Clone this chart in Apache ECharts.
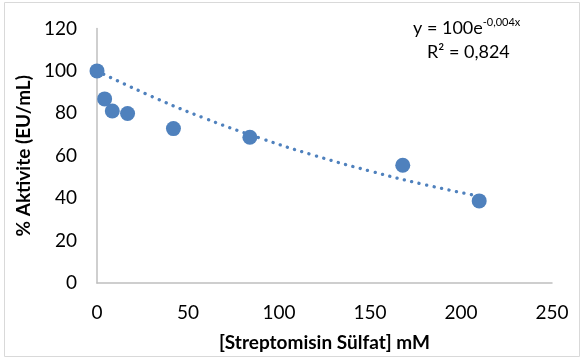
<!DOCTYPE html>
<html>
<head>
<meta charset="utf-8">
<script src="https://cdn.jsdelivr.net/npm/echarts@6/dist/echarts.min.js"></script>
<style>
  html, body { margin: 0; padding: 0; background: #fff; }
  #main { width: 584px; height: 360px; }
</style>
</head>
<body>
<div id="main"></div>
<script>
// measured points
const concentrations = [0, 4.2, 8.4, 16.8, 42, 84, 168, 210]
const activity = [100, 86.8, 81.1, 79.9, 72.8, 68.7, 55.5, 38.7]

// trendline
const trendX = [0, 30, 60, 90, 120, 150, 180, 210]
const trendY = [100, 88, 77.4, 68.2, 60, 52.8, 46.4, 40.9]

const xTicks = [0, 50, 100, 150, 200, 250]
const yTicks = [0, 20, 40, 60, 80, 100, 120]

const blue = '#4F81BD'
const axisGray = '#BFBFBF'
const font = 'Lato, "Open Sans", sans-serif'

const myChart = echarts.init(document.getElementById('main'))

myChart.setOption({
  animation: false,
  textStyle: { fontFamily: font },
  grid: { left: 97, right: 32, top: 28.5, bottom: 77 },
  graphic: [
    {
      type: 'rect',
      shape: { x: 4.5, y: 2.5, width: 575, height: 354 },
      style: { fill: 'none', stroke: '#D9D9D9', lineWidth: 1 },
      silent: true
    },
    {
      type: 'text',
      left: 413,
      top: 17,
      style: {
        text: 'y = 100e{sup|-0,004x}',
        font: '18px ' + font,
        fill: '#000',
        rich: {
          sup: { fontSize: 11, fontFamily: font, verticalAlign: 'top', padding: [0, 0, 12, 0], fill: '#000' }
        }
      }
    },
    {
      type: 'text',
      left: 427,
      top: 43,
      style: { text: 'R² = 0,824', font: '18px ' + font, fill: '#000' }
    }
  ],
  xAxis: {
    type: 'value',
    min: xTicks[0],
    max: xTicks[xTicks.length - 1],
    interval: 50,
    name: '[Streptomisin Sülfat] mM',
    nameLocation: 'middle',
    nameGap: 50,
    nameTextStyle: { fontSize: 19, fontWeight: 'bold', color: '#000', fontFamily: font },
    axisLine: { show: true, lineStyle: { color: axisGray, width: 1.5 } },
    axisTick: { show: false },
    splitLine: { show: false },
    axisLabel: { fontSize: 19, color: '#000', margin: 20 }
  },
  yAxis: {
    type: 'value',
    min: yTicks[0],
    max: yTicks[yTicks.length - 1],
    interval: 20,
    name: '% Aktivite (EU/mL)',
    nameLocation: 'middle',
    nameGap: 61,
    nameTextStyle: { fontSize: 19, fontWeight: 'bold', color: '#000', fontFamily: font },
    axisLine: { show: true, lineStyle: { color: axisGray, width: 1.5 } },
    axisTick: { show: false },
    splitLine: { show: false },
    axisLabel: { fontSize: 19, color: '#000', margin: 20 }
  },
  series: [
    {
      type: 'line',
      data: trendX.map((x, i) => [x, trendY[i]]),
      smooth: true,
      showSymbol: false,
      lineStyle: { color: blue, width: 3.3, type: [0.1, 7.5], cap: 'round' },
      z: 1
    },
    {
      type: 'scatter',
      data: concentrations.map((x, i) => [x, activity[i]]),
      symbolSize: 15,
      itemStyle: { color: blue, opacity: 1 },
      z: 2
    }
  ]
})
</script>
</body>
</html>
